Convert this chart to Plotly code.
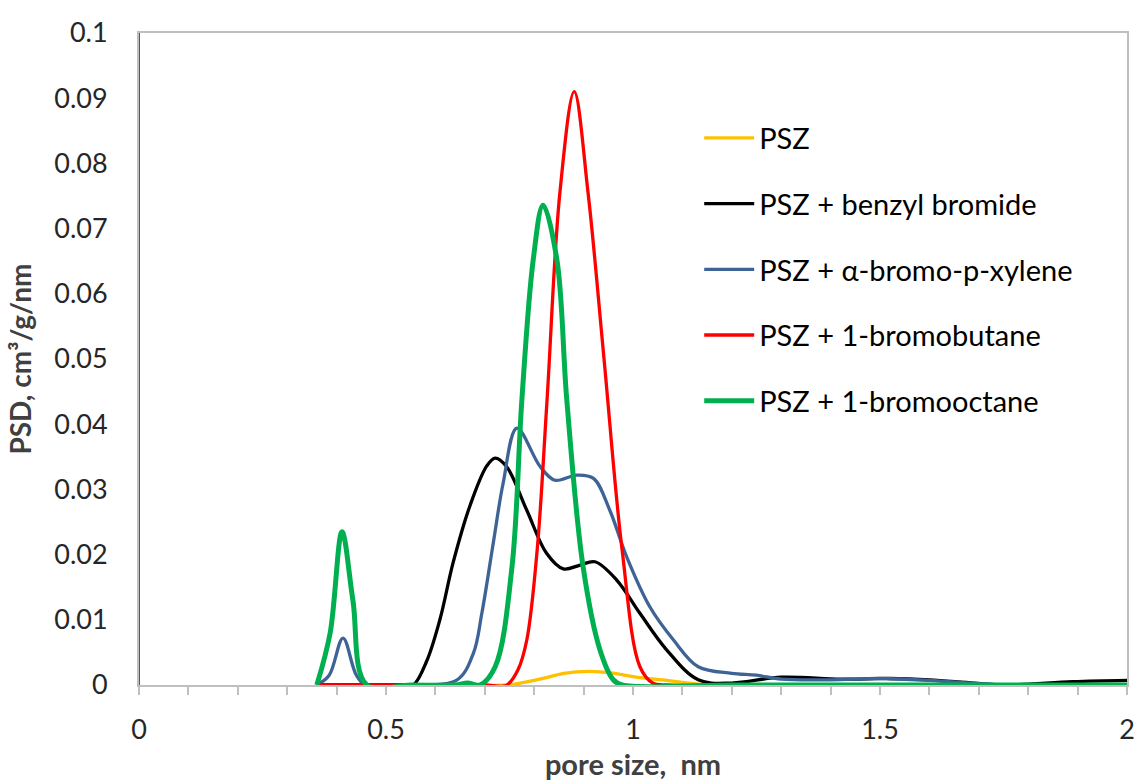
import plotly.graph_objects as go

# Pore size distribution (PSD) of PSZ samples, pore size in nm, PSD in cm3/g/nm
series_names = [
    "PSZ",
    "PSZ + benzyl bromide",
    "PSZ + α-bromo-p-xylene",
    "PSZ + 1-bromobutane",
    "PSZ + 1-bromooctane",
]
series_colors = ["#FFC000", "#000000", "#3E6496", "#FF0000", "#00B050"]
series_widths = [3.3, 3.3, 3.3, 3.3, 5]

psz_x = [0.36, 0.60, 0.745, 0.78, 0.818, 0.86, 0.913, 0.96, 1.0, 1.08, 1.14, 1.2, 1.6, 2.0]
psz_y = [0, 0, 0, 0.0004, 0.001, 0.0018, 0.0021, 0.0018, 0.0013, 0.0006, 0.0001, 0, 0, 0]

benzyl_x = [0.36, 0.45, 0.53, 0.555, 0.582, 0.609, 0.636, 0.67, 0.704, 0.721, 0.744,
            0.785, 0.825, 0.859, 0.893, 0.923, 0.967, 1.014, 1.068, 1.132, 1.2,
            1.3, 1.42, 1.52, 1.6, 1.69, 1.76, 1.89, 2.0]
benzyl_y = [0, 0, 0, 0, 0.0036, 0.0100, 0.0188, 0.0275, 0.0336, 0.0348, 0.0335,
            0.0268, 0.0202, 0.0178, 0.0184, 0.0189, 0.0161, 0.011, 0.0054, 0.0008, 0.0003,
            0.0012, 0.0009, 0.001, 0.0008, 0.0003, 0, 0.0005, 0.0007]

xylene_x = [0.36, 0.385, 0.413, 0.44, 0.46, 0.55, 0.644, 0.677, 0.694, 0.717, 0.737,
            0.765, 0.812, 0.842, 0.886, 0.92, 0.953, 0.987, 1.034, 1.082, 1.132,
            1.2, 1.25, 1.3, 1.4, 1.5, 1.6, 1.7, 1.76, 2.0]
xylene_y = [0, 0.0015, 0.0072, 0.0015, 0, 0, 0.0008, 0.0049, 0.011, 0.0217, 0.0309,
            0.0394, 0.0335, 0.0314, 0.0322, 0.0317, 0.0268, 0.0197, 0.012, 0.0069, 0.0028,
            0.0018, 0.0015, 0.0009, 0.0008, 0.001, 0.0007, 0.0002, 0, 0]

butane_x = [0.36, 0.45, 0.55, 0.65, 0.70, 0.735, 0.745, 0.767, 0.785, 0.806, 0.826,
            0.852, 0.881, 0.909, 0.941, 0.978, 1.014, 1.04, 1.07, 1.3, 1.6, 2.0]
butane_y = [0, 0, 0, 0, 0, -0.0002, 0, 0.0023, 0.0069, 0.0207, 0.0437,
            0.0755, 0.091, 0.0755, 0.0503, 0.0207, 0.0028, 0.0003, 0, 0, 0, 0]

octane_x = [0.36, 0.387, 0.411, 0.433, 0.461, 0.55, 0.64, 0.665, 0.69, 0.721, 0.755,
            0.775, 0.798, 0.818, 0.846, 0.866, 0.899, 0.933, 0.96, 0.978, 1.2, 1.6, 2.0]
octane_y = [0, 0.008, 0.0235, 0.013, 0, 0, 0, 0.0003, 0, 0.0028, 0.0181,
            0.0437, 0.0652, 0.0736, 0.0652, 0.0437, 0.0181, 0.0054, 0.0008, 0, 0, 0, 0]

series_x = [psz_x, benzyl_x, xylene_x, butane_x, octane_x]
series_y = [psz_y, benzyl_y, xylene_y, butane_y, octane_y]

FONT = "Lato"

fig = go.Figure()
for name, xs, ys, color, width in zip(series_names, series_x, series_y,
                                      series_colors, series_widths):
    fig.add_trace(go.Scatter(
        x=xs, y=ys, name=name, mode="lines",
        line=dict(color=color, width=width, shape="spline", smoothing=1.0),
        legendgroup=name, cliponaxis=False,
    ))

fig.update_layout(
    width=1135, height=781,
    margin=dict(l=139, r=8, t=33, b=96),
    paper_bgcolor="white", plot_bgcolor="white",
    font=dict(family=FONT, size=27, color="#000000"),
    showlegend=True,
    legend=dict(
        x=0.567, y=0.878, xanchor="left", yanchor="top",
        bgcolor="rgba(0,0,0,0)", tracegroupgap=25,
        font=dict(family=FONT, size=29, color="#000000"),
        itemwidth=50,
    ),
    xaxis=dict(
        range=[0, 2], dtick=0.5, tick0=0, automargin=False,
        showgrid=False, zeroline=False,
        showline=True, linecolor="#BFBFBF", linewidth=2, mirror=True,
        ticks="outside", ticklen=8, tickcolor="#BFBFBF", tickwidth=2,
        minor=dict(dtick=0.1, ticks="outside", ticklen=8, tickcolor="#BFBFBF",
                   tickwidth=2, showgrid=False),
        tickfont=dict(family=FONT, size=27, color="#262626"),
        ticklabelstandoff=12,
        title=dict(text="<b>pore size,  nm</b>", standoff=10,
                   font=dict(family=FONT, size=29, color="#404040")),
        layer="below traces",
    ),
    yaxis=dict(
        range=[0, 0.1], dtick=0.01, tick0=0, automargin=False,
        showgrid=False, zeroline=False,
        showline=True, linecolor="#BFBFBF", linewidth=2, mirror=True,
        ticks="",
        tickfont=dict(family=FONT, size=27, color="#262626"),
        ticklabelstandoff=24,
        title=dict(text="<b>PSD, cm³/g/nm</b>", standoff=14,
                   font=dict(family=FONT, size=28, color="#404040")),
        layer="below traces",
    ),
    shapes=[
        # darker left axis line
        dict(type="line", xref="paper", yref="paper", x0=0, x1=0, y0=0, y1=1,
             line=dict(color="#3F5F6B", width=2), layer="below"),
    ],
)

fig.write_html("out.html")
